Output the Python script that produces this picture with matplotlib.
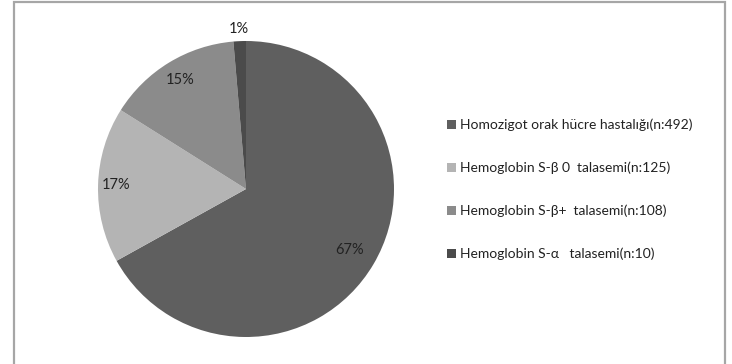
import numpy as np
import matplotlib
matplotlib.use("Agg")
import matplotlib.pyplot as plt
from matplotlib.patches import Rectangle

# --- Data ---
labels = [
    "Homozigot orak hücre hastalığı(n:492)",
    "Hemoglobin S-β 0  talasemi(n:125)",
    "Hemoglobin S-β+  talasemi(n:108)",
    "Hemoglobin S-α   talasemi(n:10)",
]
counts = [492, 125, 108, 10]
pct_labels = ["67%", "17%", "15%", "1%"]
colors = ["#5f5f5f", "#b4b4b4", "#8b8b8b", "#4b4b4b"]
label_radius = [0.81, 0.88, 0.86, 1.08]

plt.rcParams["font.family"] = ["Lato", "DejaVu Sans"]

W, H = 732, 364
fig = plt.figure(figsize=(W / 100, H / 100), dpi=100)

# outer frame like the original export
fig.patches.append(Rectangle((14 / W, -0.02), (725 - 14) / W, 1.015,
                             transform=fig.transFigure, fill=False,
                             edgecolor="#a6a6a6", linewidth=1.6))

# pie axes: circle centred at (246, 189) px, radius ~148 px
cx, cy, r = 246, 189, 148
ax = fig.add_axes([(cx - r) / W, (H - cy - r) / H, 2 * r / W, 2 * r / H])
wedges, _ = ax.pie(counts, colors=colors, startangle=90, counterclock=False,
                   radius=1.0, wedgeprops=dict(linewidth=0))
ax.set_xlim(-1, 1)
ax.set_ylim(-1, 1)
ax.set_aspect("equal")
ax.axis("off")

# percentage labels at each wedge's mid angle
for w, txt, rf in zip(wedges, pct_labels, label_radius):
    ang = np.deg2rad((w.theta1 + w.theta2) / 2)
    ax.text(rf * np.cos(ang), rf * np.sin(ang), txt, ha="center", va="center",
            fontsize=10.5, color="#222222")

leg = fig.legend(wedges, labels, loc="upper left",
                 bbox_to_anchor=(441 / W, 1 - 113 / H), frameon=False,
                 fontsize=10, handlelength=0.65, handleheight=0.65,
                 handletextpad=0.35, labelspacing=2.2, borderaxespad=0)
for t in leg.get_texts():
    t.set_color("#222222")

fig.savefig("out.png", dpi=100, facecolor="white")
